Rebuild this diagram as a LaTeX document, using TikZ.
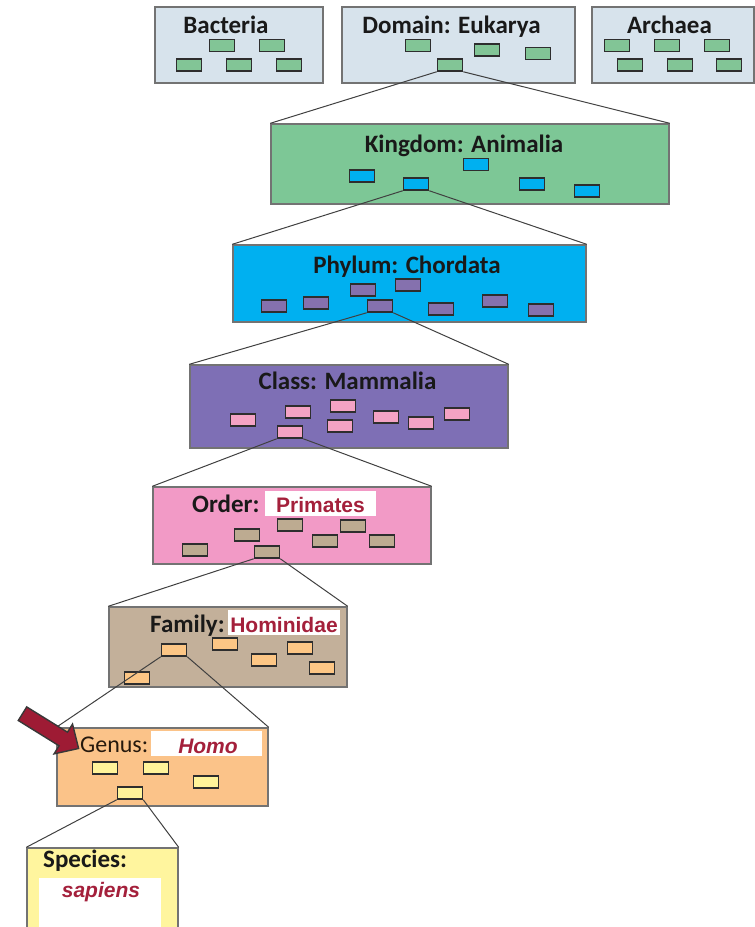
\documentclass[tikz,border=0pt]{standalone}
\usepackage{fontspec}
\setmainfont{Carlito}
\newfontfamily\arialfont{Liberation Sans}

\definecolor{domfill}{HTML}{D7E3EC}
\definecolor{grnsm}{HTML}{82C596}
\definecolor{kinfill}{HTML}{7DC796}
\definecolor{cyanfill}{HTML}{00B0F0}
\definecolor{purpsm}{HTML}{8571AE}
\definecolor{purpfill}{HTML}{7E6FB5}
\definecolor{pinksm}{HTML}{F4A3C4}
\definecolor{pinkfill}{HTML}{F29AC6}
\definecolor{tansm}{HTML}{BDAB91}
\definecolor{tanfill}{HTML}{C3B09A}
\definecolor{orsm}{HTML}{FCC685}
\definecolor{orfill}{HTML}{FBC389}
\definecolor{yelsm}{HTML}{FFF39A}
\definecolor{yelfill}{HTML}{FFF59E}
\definecolor{redtxt}{HTML}{A4203B}
\definecolor{arrowred}{HTML}{9E1B34}

\tikzset{
  big/.style={draw=black!55, line width=1.4pt, inner sep=0pt},
  sm/.style={draw=black!82, line width=1.5pt, minimum width=25pt, minimum height=12pt, inner sep=0pt},
  lab/.style={inner sep=0pt, text=black!90, font=\fontsize{25}{28}\selectfont\bfseries},
  redlab/.style={inner sep=0pt, text=redtxt, font=\arialfont\fontsize{21}{24}\selectfont\bfseries},
  blank/.style={fill=white, inner sep=0pt},
  zoomline/.style={draw=black!75, line width=1pt}
}

\begin{document}
\begin{tikzpicture}[x=1pt,y=-1pt]
  \useasboundingbox (0,0) rectangle (755,927);
  \clip (0,0) rectangle (755,927);

  % domains
  \node (bac) at (239,45) [big,fill=domfill,minimum width=168pt,minimum height=76pt] {};
  \node (dom) at (458.5,45) [big,fill=domfill,minimum width=233pt,minimum height=76pt] {};
  \node (arc) at (673,45) [big,fill=domfill,minimum width=162pt,minimum height=76pt] {};
  \node (bacl) at (226,33) [lab,anchor=base] {Bacteria};
  \node (doml) at (451.5,33) [lab,anchor=base] {Domain: Eukarya};
  \node (arcl) at (669.5,33) [lab,anchor=base] {Archaea};
  \node (b1) at (222,45.5) [sm,fill=grnsm] {};
  \node (b2) at (272,45.5) [sm,fill=grnsm] {};
  \node (b3) at (189,65) [sm,fill=grnsm] {};
  \node (b4) at (239,65) [sm,fill=grnsm] {};
  \node (b5) at (289,65) [sm,fill=grnsm] {};
  \node (d1) at (418,45.5) [sm,fill=grnsm] {};
  \node (d2) at (487,50) [sm,fill=grnsm] {};
  \node (d3) at (538,53.5) [sm,fill=grnsm] {};
  \node (dsel) at (450,65) [sm,fill=grnsm] {};
  \node (a1) at (617,45.5) [sm,fill=grnsm] {};
  \node (a2) at (667,45.5) [sm,fill=grnsm] {};
  \node (a3) at (717,45.5) [sm,fill=grnsm] {};
  \node (a4) at (630,65) [sm,fill=grnsm] {};
  \node (a5) at (680,65) [sm,fill=grnsm] {};
  \node (a6) at (729,65) [sm,fill=grnsm] {};

  % kingdom
  \node (kin) at (470,164) [big,fill=kinfill,minimum width=398pt,minimum height=80pt] {};
  \node (kinl) at (464,152) [lab,anchor=base] {Kingdom: Animalia};
  \node (k1) at (362,176) [sm,fill=cyanfill] {};
  \node (k2) at (476,164.5) [sm,fill=cyanfill] {};
  \node (k3) at (532,184) [sm,fill=cyanfill] {};
  \node (k4) at (587,191) [sm,fill=cyanfill] {};
  \node (ksel) at (416,184) [sm,fill=cyanfill] {};

  % phylum
  \node (phy) at (409.5,283.5) [big,fill=cyanfill,minimum width=353pt,minimum height=77pt] {};
  \node (phyl) at (407,273) [lab,anchor=base] {Phylum: Chordata};
  \node (p1) at (274,306) [sm,fill=purpsm] {};
  \node (p2) at (316,303) [sm,fill=purpsm] {};
  \node (p3) at (363,290) [sm,fill=purpsm] {};
  \node (p4) at (408,285) [sm,fill=purpsm] {};
  \node (p5) at (441,309) [sm,fill=purpsm] {};
  \node (p6) at (495,301) [sm,fill=purpsm] {};
  \node (p7) at (541,310) [sm,fill=purpsm] {};
  \node (psel) at (380,306) [sm,fill=purpsm] {};

  % class
  \node (cla) at (349,406.5) [big,fill=purpfill,minimum width=318pt,minimum height=83pt] {};
  \node (clal) at (347.5,389) [lab,anchor=base] {Class: Mammalia};
  \node (c1) at (243,420) [sm,fill=pinksm] {};
  \node (c2) at (298,412) [sm,fill=pinksm] {};
  \node (c3) at (343,406) [sm,fill=pinksm] {};
  \node (c4) at (340,426) [sm,fill=pinksm] {};
  \node (c5) at (386,417) [sm,fill=pinksm] {};
  \node (c6) at (421,423) [sm,fill=pinksm] {};
  \node (c7) at (457,414) [sm,fill=pinksm] {};
  \node (csel) at (290,432) [sm,fill=pinksm] {};

  % order
  \node (ord) at (292,525.5) [big,fill=pinkfill,minimum width=278pt,minimum height=77pt] {};
  \node (ordl) at (192,512) [lab,anchor=base west] {Order:};
  \node (ordw) at (320.5,503.5) [blank,minimum width=111pt,minimum height=25pt] {};
  \node (ordn) at (320.5,512) [redlab,anchor=base] {Primates};
  \node (o1) at (195,550) [sm,fill=tansm] {};
  \node (o2) at (247,535) [sm,fill=tansm] {};
  \node (o3) at (290,525) [sm,fill=tansm] {};
  \node (o4) at (353,526) [sm,fill=tansm] {};
  \node (o5) at (325,541) [sm,fill=tansm] {};
  \node (o6) at (382,541) [sm,fill=tansm] {};
  \node (osel) at (267,552) [sm,fill=tansm] {};

  % family
  \node (fam) at (228,647) [big,fill=tanfill,minimum width=238pt,minimum height=80pt] {};
  \node (faml) at (150,632) [lab,anchor=base west] {Family:};
  \node (famw) at (284,622.5) [blank,minimum width=112pt,minimum height=25pt] {};
  \node (famn) at (284,632) [redlab,anchor=base] {Hominidae};
  \node (f1) at (225,644) [sm,fill=orsm] {};
  \node (f2) at (264,660) [sm,fill=orsm] {};
  \node (f3) at (300,648) [sm,fill=orsm] {};
  \node (f4) at (322,668) [sm,fill=orsm] {};
  \node (f5) at (137,678) [sm,fill=orsm] {};
  \node (fsel) at (174,650) [sm,fill=orsm] {};

  % genus
  \node (gen) at (162.5,767) [big,fill=orfill,minimum width=211pt,minimum height=78pt] {};
  \node (genl) at (80,752) [lab,anchor=base west,font=\fontsize{24}{26}\selectfont,text=black!80!brown] {Genus:};
  \node (genw) at (206.5,743.5) [blank,minimum width=111pt,minimum height=25pt] {};
  \node (genn) at (208,753) [redlab,anchor=base,font=\arialfont\fontsize{21}{24}\selectfont\bfseries\itshape] {Homo};
  \node (g1) at (105,768) [sm,fill=yelsm] {};
  \node (g2) at (156,768) [sm,fill=yelsm] {};
  \node (g3) at (206,782) [sm,fill=yelsm] {};
  \node (gsel) at (130,793) [sm,fill=yelsm] {};

  % species
  \node (spe) at (102.5,899) [big,fill=yelfill,minimum width=151pt,minimum height=102pt] {};
  \node (spel) at (43,867) [lab,anchor=base west] {Species:};
  \node (spew) at (100,909) [blank,minimum width=122pt,minimum height=62pt] {};
  \node (spen) at (101,897) [redlab,anchor=base,font=\arialfont\fontsize{21}{24}\selectfont\bfseries\itshape] {sapiens};

  % zoom lines
  \draw[zoomline] (dsel.south west) -- (kin.north west);
  \draw[zoomline] (dsel.south east) -- (kin.north east);
  \draw[zoomline] (ksel.south west) -- (phy.north west);
  \draw[zoomline] (ksel.south east) -- (phy.north east);
  \draw[zoomline] (psel.south west) -- (cla.north west);
  \draw[zoomline] (psel.south east) -- (cla.north east);
  \draw[zoomline] (csel.south west) -- (ord.north west);
  \draw[zoomline] (csel.south east) -- (ord.north east);
  \draw[zoomline] (osel.south west) -- (fam.north west);
  \draw[zoomline] (osel.south east) -- (fam.north east);
  \draw[zoomline] (fsel.south west) -- (gen.north west);
  \draw[zoomline] (fsel.south east) -- (gen.north east);
  \draw[zoomline] (gsel.south west) -- (spe.north west);
  \draw[zoomline] (gsel.south east) -- (spe.north east);

  % pointer to genus
  \begin{scope}[shift={(22.5,713.7)},rotate=-31.8]
    \draw[fill=arrowred,draw=black!78,line width=1.4pt,line join=miter]
      (0,-8) -- (48,-8) -- (48,-17.5) -- (66,0) -- (48,17.5) -- (48,8) -- (0,8) -- cycle;
  \end{scope}
\end{tikzpicture}
\end{document}
